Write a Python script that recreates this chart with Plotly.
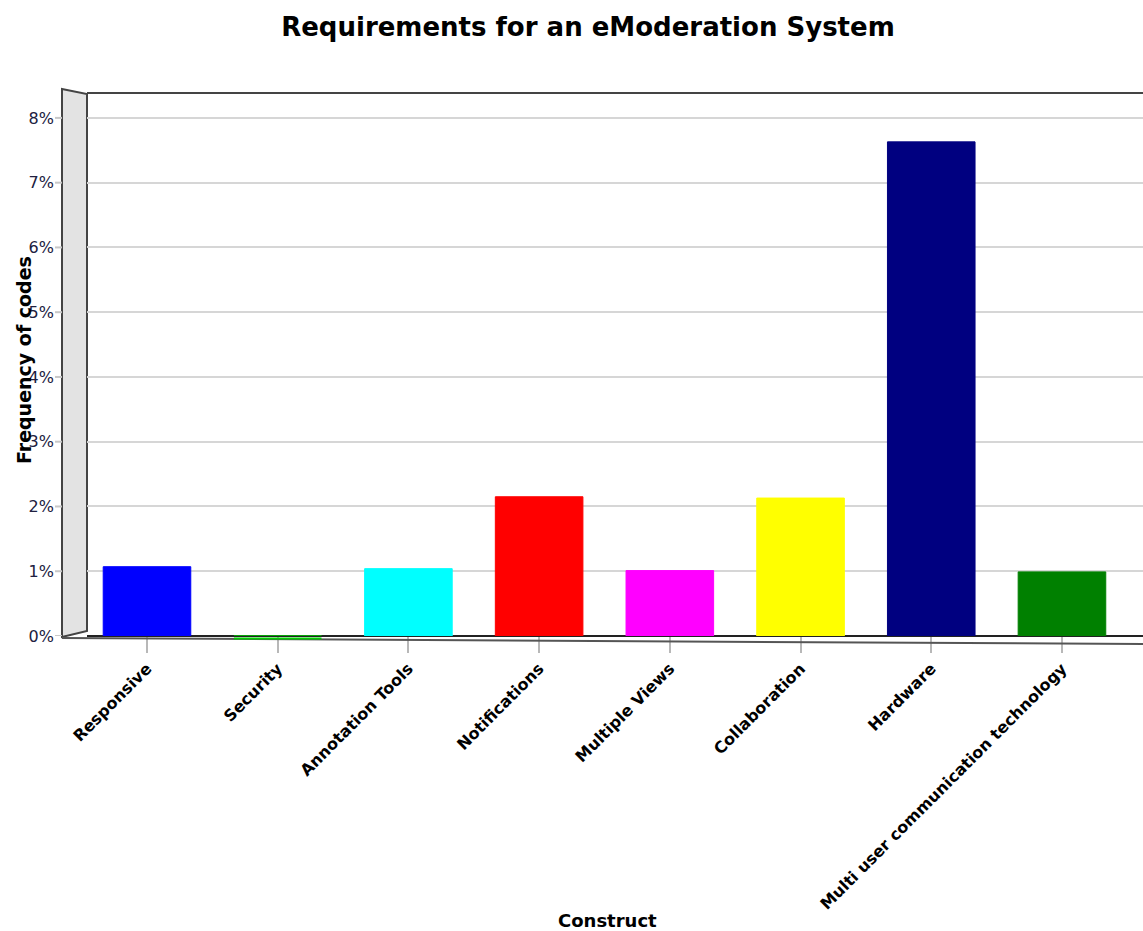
import plotly.graph_objects as go

categories = ["Responsive", "Security", "Annotation Tools", "Notifications",
              "Multiple Views", "Collaboration", "Hardware",
              "Multi user communication technology"]
values = [1.07, 0.0, 1.04, 2.15, 1.01, 2.13, 7.63, 0.99]
colors = ["#0000FF", "#00CC00", "#00FFFF", "#FF0000", "#FF00FF", "#FFFF00", "#000080", "#008000"]
y_ticks = [0, 1, 2, 3, 4, 5, 6, 7, 8]
y_tick_labels = ["0%", "1%", "2%", "3%", "4%", "5%", "6%", "7%", "8%"]

W, H = 1143, 931
L, T, B = 87, 92, 295
pw = W - L
ph = H - T - B
BAR_W = 0.67

def px_x(p):
    return (p - L) / pw

def px_y(p):
    return (H - B - p) / ph

fig = go.Figure()
fig.add_trace(go.Bar(
    x=categories, y=values,
    marker=dict(color=colors, line=dict(color=colors, width=1)),
    width=BAR_W,
))

font_main = "DejaVu Sans"

shapes = []
# left wall (decorative)
shapes.append(dict(type="path", xref="paper", yref="paper",
                   path=f"M {px_x(62)},{px_y(89)} L {px_x(87)},{px_y(94)} L {px_x(87)},{px_y(631)} L {px_x(62)},{px_y(637)} Z",
                   fillcolor="#E3E3E3", line=dict(color="#444444", width=2), layer="below"))
# top frame line
shapes.append(dict(type="line", xref="paper", yref="paper", x0=px_x(87), x1=1.0, y0=px_y(93), y1=px_y(93),
                   line=dict(color="#444444", width=2)))
# floor front line
shapes.append(dict(type="line", xref="paper", yref="paper", x0=px_x(62), x1=1.0, y0=px_y(638), y1=px_y(644),
                   line=dict(color="#555555", width=2)))
# tick stubs on y
for v in y_ticks:
    shapes.append(dict(type="line", xref="paper", yref="y", x0=px_x(55), x1=px_x(62), y0=v, y1=v,
                       line=dict(color="#C8C8C8", width=2)))
# zero-height bars shown as a thin coloured line on the floor (as in the reference)
for i, (v, c) in enumerate(zip(values, colors)):
    if v == 0:
        shapes.append(dict(type="line", xref="x", yref="paper", x0=i - BAR_W / 2, x1=i + BAR_W / 2,
                           y0=px_y(638.5), y1=px_y(638.5), line=dict(color=c, width=2), layer="above"))

fig.update_layout(
    width=W, height=H,
    margin=dict(l=L, r=0, t=T, b=B),
    paper_bgcolor="white", plot_bgcolor="white",
    showlegend=False,
    title=dict(text="<b>Requirements for an eModeration System</b>",
               x=588 / W, xanchor="center", y=1 - 27 / H, yanchor="middle",
               font=dict(family=font_main, size=26, color="#000000")),
    xaxis=dict(range=[-0.459, 7.62], tickangle=-45, showline=False,
               ticks="outside", ticklen=16, tickcolor="#B8B8B8", tickwidth=2,
               tickfont=dict(family=font_main, size=16, color="#000000", weight="bold"),
               showgrid=False),
    yaxis=dict(range=[0, 8.4], tickvals=y_ticks, ticktext=y_tick_labels,
               tickfont=dict(family=font_main, size=16, color="#202040"),
               showgrid=True, gridcolor="#D6D6D6", gridwidth=2,
               zeroline=True, zerolinecolor="#222222", zerolinewidth=2,
               ticks="", ticklabelstandoff=32, showline=False),
    shapes=shapes,
    annotations=[
        dict(text="<b>Frequency of codes</b>", xref="paper", yref="paper",
             x=px_x(24), y=px_y(360), xanchor="center", yanchor="middle", textangle=-90,
             showarrow=False, font=dict(family=font_main, size=19, color="#000000")),
        dict(text="<b>Construct</b>", xref="paper", yref="paper",
             x=px_x(607), y=px_y(920), xanchor="center", yanchor="middle",
             showarrow=False, font=dict(family=font_main, size=18, color="#000000")),
    ],
)

fig.write_html("out.html")
